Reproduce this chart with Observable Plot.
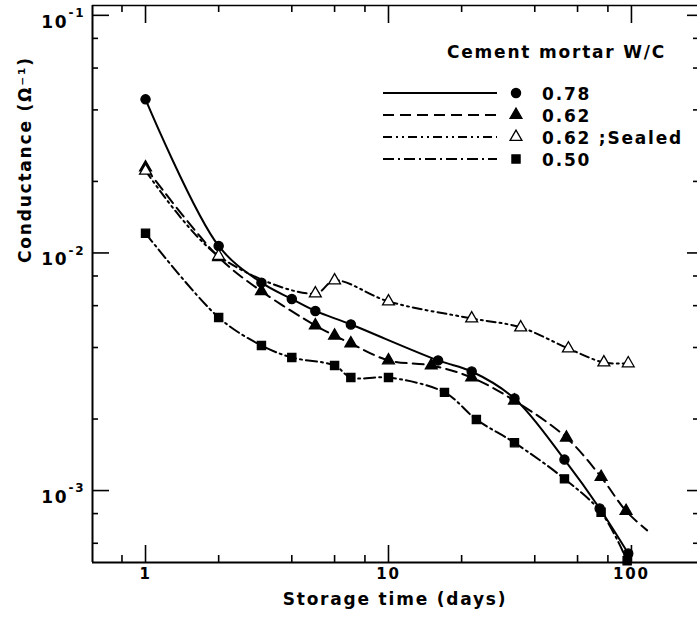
<!DOCTYPE html>
<html><head><meta charset="utf-8">
<script src="https://cdn.jsdelivr.net/npm/d3@7"></script>
<script src="https://cdn.jsdelivr.net/npm/@observablehq/plot@0.6"></script>
<style>
html,body{margin:0;padding:0;background:#fff;}
#wrap{position:relative;width:700px;height:618px;overflow:hidden;}
#wrap svg text{letter-spacing:1.8px;}
#legend{position:absolute;left:0;top:0;pointer-events:none;}
</style></head><body><div id="wrap"></div>
<script>
// ---- data ----
const days_078 = [1, 2, 3, 4, 5, 7, 16, 22, 33, 53, 74, 97];
const cond_078 = [0.0443, 0.0107, 0.0075, 0.0064, 0.0057, 0.0050, 0.00353, 0.00317, 0.00244, 0.00135, 0.00084, 0.000543];

const days_062 = [1, 2, 3, 5, 6, 7, 10, 15, 22, 33, 54, 75, 95];
const cond_062 = [0.0229, 0.0096, 0.0069, 0.00495, 0.00449, 0.00416, 0.00353, 0.00336, 0.00299, 0.00239, 0.00167, 0.00114, 0.00082];
const days_062_lineEnd = [116];
const cond_062_lineEnd = [0.00068];

const days_062s = [1, 2, 5, 6, 10, 22, 35, 55, 77, 97];
const cond_062s = [0.0222, 0.0097, 0.00675, 0.00766, 0.00625, 0.0053, 0.00486, 0.00396, 0.00346, 0.00343];

const days_050 = [1, 2, 3, 4, 6, 7, 10, 17, 23, 33, 53, 75, 96];
const cond_050 = [0.0121, 0.00535, 0.00408, 0.00363, 0.00336, 0.00299, 0.00299, 0.00259, 0.00199, 0.00159, 0.00112, 0.00081, 0.000507];

const seriesNames = ["0.78", "0.62", "0.62 ;Sealed", "0.50"];
const legendTitle = "Cement mortar W/C";
const xLabel = "Storage time (days)";
const yLabel = "Conductance (\u03A9\u207B\u00B9)";

const xDomain = [0.605, 187];
const yDomain = [0.000498, 0.110];
const xMajor = [1, 10, 100];
const xMinor = [0.8, 2, 4, 6, 8, 20, 40, 60, 80];
const yMajor = [0.1, 0.01, 0.001];
const yMinor = [0.08, 0.06, 0.04, 0.02, 0.008, 0.006, 0.004, 0.002, 0.0008, 0.0006];
const xTickLabels = ["1", "10", "100"];
const yTickExp = ["-1", "-2", "-3"];

// ---- build tables ----
const zip = (xs, ys) => xs.map((x, i) => ({x, y: ys[i]}));
const styles = [
  {symbol: "circle", r: 4.6, fill: "black", dash: null},
  {symbol: "triangle", r: 4.4, fill: "black", dash: "11,6"},
  {symbol: "triangle", r: 4.4, fill: "white", dash: "9,4,2,4,2,4"},
  {symbol: "square", r: 4.6, fill: "black", dash: "11,4,2,4"}
];
const series = [
  {name: seriesNames[0], pts: zip(days_078, cond_078), line: zip(days_078, cond_078)},
  {name: seriesNames[1], pts: zip(days_062, cond_062), line: zip(days_062, cond_062).concat(zip(days_062_lineEnd, cond_062_lineEnd))},
  {name: seriesNames[2], pts: zip(days_062s, cond_062s), line: zip(days_062s, cond_062s)},
  {name: seriesNames[3], pts: zip(days_050, cond_050), line: zip(days_050, cond_050)}
].map((s, i) => ({...s, ...styles[i]}));

const W = 700, H = 618;
const mL = 92, mR = 3, mT = 5, mB = 56;
const pw = W - mL - mR, ph = H - mT - mB;
const FONT = "DejaVu Sans, Liberation Sans, sans-serif";

const marks = [];
// frame: left, top, bottom
marks.push(Plot.ruleX([xDomain[0]], {x: d => d, stroke: "black", strokeWidth: 2}));
marks.push(Plot.ruleY([yDomain[1]], {y: d => d, stroke: "black", strokeWidth: 1.5}));
marks.push(Plot.ruleY([yDomain[0]], {y: d => d, stroke: "black", strokeWidth: 2}));
// ticks (inward)
const tk = (data, len, kind) => {
  if (kind === "b") return Plot.ruleX(data, {x: d => d, insetTop: ph - len, stroke: "black", strokeWidth: 1.6});
  if (kind === "t") return Plot.ruleX(data, {x: d => d, insetBottom: ph - len, stroke: "black", strokeWidth: 1.6});
  if (kind === "l") return Plot.ruleY(data, {y: d => d, insetRight: pw - len, stroke: "black", strokeWidth: 1.6});
  return Plot.ruleY(data, {y: d => d, insetLeft: pw - len, stroke: "black", strokeWidth: 1.6});
};
marks.push(tk(xMajor, 17, "b"), tk(xMinor, 7, "b"), tk(xMajor, 18, "t"), tk(xMinor, 7, "t"));
marks.push(tk(yMajor, 17, "l"), tk(yMinor, 6, "l"), tk(yMajor, 10, "r"), tk(yMinor, 4, "r"));
// lines
for (const s of series) {
  marks.push(Plot.line(s.line, {x: "x", y: "y", curve: "catmull-rom", stroke: "black", strokeWidth: 2, strokeDasharray: s.dash || undefined}));
}
// markers
for (const s of series) {
  marks.push(Plot.dot(s.pts, {x: "x", y: "y", symbol: s.symbol, r: s.r, fill: s.fill, stroke: "black", strokeWidth: 1.3}));
}
// tick labels
marks.push(Plot.text(xMajor, {x: d => d, frameAnchor: "bottom", dy: 16, text: (d, i) => xTickLabels[i], fontSize: 15, fontWeight: "bold", fontFamily: FONT, fill: "black"}));
marks.push(Plot.text(yMajor, {y: d => d, frameAnchor: "left", dx: -24, dy: 7, textAnchor: "end", text: () => "10", fontSize: 17, fontWeight: "bold", fontFamily: FONT, fill: "black"}));
marks.push(Plot.text(yMajor, {y: d => d, frameAnchor: "left", dx: -24, dy: -2, textAnchor: "start", text: (d, i) => yTickExp[i], fontSize: 12, fontWeight: "bold", fontFamily: FONT, fill: "black"}));
// axis labels
marks.push(Plot.text([xLabel], {frameAnchor: "bottom", dy: 42, lineAnchor: "bottom", text: d => d, fontSize: 17, fontWeight: "bold", fontFamily: FONT, fill: "black"}));
marks.push(Plot.text([yLabel], {frameAnchor: "left", dx: -67, dy: -21, rotate: -90, text: d => d, fontSize: 17, fontWeight: "bold", fontFamily: FONT, fill: "black"}));

const chart = Plot.plot({
  width: W, height: H,
  marginLeft: mL, marginRight: mR, marginTop: mT, marginBottom: mB,
  x: {type: "log", domain: xDomain, axis: null},
  y: {type: "log", domain: yDomain, axis: null},
  style: {background: "white", overflow: "visible"},
  marks
});
const wrap = document.getElementById("wrap");
wrap.appendChild(chart);

// ---- legend overlay ----
const lg = d3.select(wrap).append("svg").attr("id", "legend").attr("width", W).attr("height", H);
lg.append("text").attr("x", 447).attr("y", 58).text(legendTitle)
  .attr("font-family", FONT).attr("font-weight", "bold").attr("font-size", 17).attr("fill", "black");
series.forEach((s, i) => {
  const cy = 93 + i * 22;
  lg.append("line").attr("x1", 383).attr("x2", 497).attr("y1", cy).attr("y2", cy)
    .attr("stroke", "black").attr("stroke-width", 2).attr("stroke-dasharray", s.dash || null);
  const sym = s.symbol === "circle" ? d3.symbolCircle : s.symbol === "square" ? d3.symbolSquare : d3.symbolTriangle;
  lg.append("path").attr("d", d3.symbol(sym, Math.PI * s.r * s.r)()).attr("transform", `translate(516,${cy})`)
    .attr("fill", s.fill).attr("stroke", "black").attr("stroke-width", 1.3);
  lg.append("text").attr("x", 542).attr("y", cy + 7).text(s.name)
    .attr("font-family", FONT).attr("font-weight", "bold").attr("font-size", 17).attr("fill", "black");
});
</script>
</body></html>
